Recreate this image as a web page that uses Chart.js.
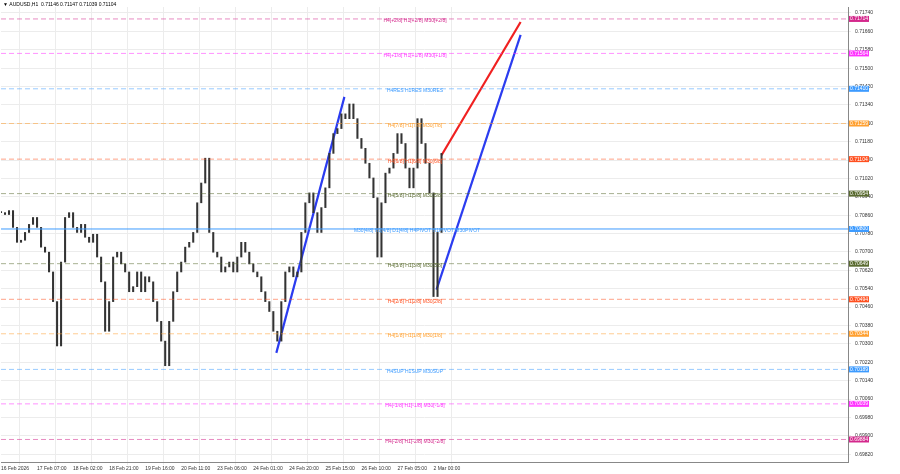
<!DOCTYPE html><html><head><meta charset="utf-8">
<script src="https://cdn.jsdelivr.net/npm/chart.js@4"></script>
<style>html,body{margin:0;background:#fff}#w{position:relative;width:900px;height:474px}</style></head><body><div id="w"><canvas id="c"></canvas></div>
<script>
const closes=[0.70871,0.70863,0.70880,0.70807,0.70742,0.70751,0.70785,0.70820,0.70850,0.70807,
0.70721,0.70699,0.70613,0.70484,0.70291,0.70656,0.70850,0.70871,0.70807,0.70785,
0.70820,0.70764,0.70742,0.70777,0.70678,0.70570,0.70355,0.70484,0.70678,0.70699,
0.70648,0.70613,0.70527,0.70549,0.70613,0.70527,0.70592,0.70570,0.70484,0.70398,
0.70312,0.70205,0.70398,0.70527,0.70613,0.70656,0.70721,0.70742,0.70785,0.70914,
0.71000,0.71108,0.70785,0.70699,0.70678,0.70613,0.70635,0.70656,0.70613,0.70678,
0.70742,0.70699,0.70648,0.70613,0.70592,0.70527,0.70484,0.70441,0.70355,0.70312,
0.70484,0.70613,0.70635,0.70592,0.70613,0.70785,0.70914,0.70957,0.70871,0.70785,
0.70893,0.70979,0.71129,0.71215,0.71237,0.71301,0.71280,0.71344,0.71280,0.71194,
0.71151,0.71086,0.71022,0.70936,0.70678,0.70914,0.71043,0.71065,0.71129,0.71215,
0.71172,0.71065,0.70979,0.71065,0.71280,0.71172,0.71086,0.70957,0.70506,0.70785,0.71129];
const timeLabels=["16 Feb 2026","17 Feb 07:00","18 Feb 02:00","18 Feb 21:00","19 Feb 16:00","20 Feb 11:00","23 Feb 06:00","24 Feb 01:00","24 Feb 20:00","25 Feb 15:00","26 Feb 10:00","27 Feb 05:00","2 Mar 00:00"];
const yTicks=[0.69820,0.69900,0.69980,0.70060,0.70140,0.70220,0.70300,0.70380,0.70460,0.70540,0.70620,0.70700,0.70780,0.70860,0.70940,0.71020,0.71100,0.71180,0.71260,0.71340,0.71420,0.71500,0.71580,0.71660,0.71740];
const levelValues=[0.71714,0.71564,0.71410,0.71259,0.71104,0.70954,0.70800,0.70649,0.70494,0.70344,0.70189,0.70039,0.69884];
const levelNames=["H4[+2/8] H1[+2/8] M30[+2/8]","H4[+1/8] H1[+1/8] M30[+1/8]","H4RES H1RES M30RES","H4[7/8] H1[7/8] M30[7/8]","H4[6/8] H1[6/8] M30[6/8]","H4[5/8] H1[5/8] M30[5/8]","M30[4/8] H1[4/8] D1[4/8] H4PIVOT H1PIVOT M30PIVOT","H4[3/8] H1[3/8] M30[3/8]","H4[2/8] H1[2/8] M30[2/8]","H4[1/8] H1[1/8] M30[1/8]","H4SUP H1SUP M30SUP","H4[-1/8] H1[-1/8] M30[-1/8]","H4[-2/8] H1[-2/8] M30[-2/8]"];
const levelColors=["#d4288c","#ff33ff","#3d9bff","#ffa030","#ff5020","#5a6b30","#3d9bff","#5a6b30","#ff5020","#ffa030","#3d9bff","#ff33ff","#d4288c"];
const trendBlue1=[[68.75,0.70261],[85.75,0.71375]];
const trendBlue2=[[108.75,0.70536],[129.75,0.71645]];
const trendRed=[[110,0.71121],[129.75,0.71701]];
const XMAX=211.5;
const candles=closes.map((c,i)=>({x:i,y:[i?closes[i-1]:c,c]}));
const ds=[];
levelValues.forEach((v,i)=>ds.push({type:'line',data:[{x:0,y:v},{x:XMAX,y:v}],borderColor:levelColors[i]+(i==6?'':'88'),borderWidth:1,borderDash:i==6?[]:[5,3],pointRadius:0}));
ds.push({type:'bar',data:candles,backgroundColor:'#333',borderColor:'#333',barThickness:1.4,minBarLength:1});
[[trendBlue1,'#2b3cf0'],[trendBlue2,'#2b3cf0'],[trendRed,'#f02020']].forEach(([t,c])=>ds.push({type:'line',data:t.map(p=>({x:p[0],y:p[1]})),borderColor:c,borderWidth:2.2,pointRadius:0}));
const deco={id:'deco',afterDatasetsDraw(ch){const g=ch.ctx,y=ch.scales.y,a=ch.chartArea;g.save();g.font='5px "Liberation Sans"';g.textBaseline='middle';
levelValues.forEach((v,i)=>{const py=y.getPixelForValue(v);g.fillStyle=levelColors[i];g.textAlign='center';g.fillText(levelNames[i],i==6?417:415,py+2);
g.fillRect(a.right+1,py-3,20,6);g.fillStyle='#fff';g.textAlign='left';g.fillText(v.toFixed(5),a.right+2,py);});
g.fillStyle='#000';g.textAlign='left';g.fillText('▼ AUDUSD,H1  0.71146 0.71147 0.71039 0.71104',3,5);g.restore();}};
new Chart(document.getElementById('c'),{data:{datasets:ds},plugins:[deco],options:{responsive:true,maintainAspectRatio:false,animation:false,
layout:{padding:{top:2,left:0,right:0,bottom:0}},plugins:{legend:{display:false},tooltip:{enabled:false}},
scales:{x:{type:'linear',min:0,max:XMAX,offset:false,afterBuildTicks:s=>{s.ticks=timeLabels.map((_,i)=>({value:i*9}));},afterFit:s=>{s.height=12;},
ticks:{autoSkip:false,maxRotation:0,align:'start',padding:1,font:{size:5,family:'Liberation Sans'},color:'#333',callback:(v)=>timeLabels[Math.round(v/9)]},grid:{color:'#ececec',drawTicks:true,tickLength:3},border:{color:'#888'}},
y:{position:'right',min:0.69786,max:0.71766,afterBuildTicks:s=>{s.ticks=yTicks.map(v=>({value:v}));},afterFit:s=>{s.width=52;},
ticks:{padding:4,font:{size:5,family:'Liberation Sans'},color:'#333',callback:v=>v.toFixed(5)},grid:{color:'#ececec',tickLength:3},border:{color:'#888'}}}}});
</script></body></html>
